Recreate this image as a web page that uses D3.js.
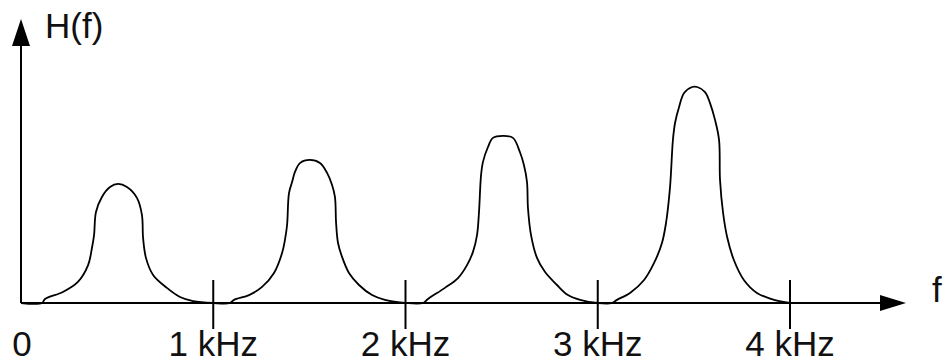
<!DOCTYPE html>
<html>
<head>
<meta charset="utf-8">
<script src="https://cdn.jsdelivr.net/npm/d3@7/dist/d3.min.js"></script>
<style>
  html, body { margin: 0; padding: 0; background: #fff; }
  svg { display: block; }
  text { font-family: "Liberation Sans", Arial, sans-serif; fill: #111; }
</style>
</head>
<body>
<div id="chart"></div>
<script>
// [f in kHz, H(f)], one array per 1 kHz band
const band1 = [[0, 0], [0.109, 0], [0.125, 0.17], [0.218, 0.46], [0.296, 0.88], [0.349, 1.58], [0.369, 2.29], [0.380, 2.83], [0.390, 3.79], [0.421, 4.42], [0.463, 4.83], [0.505, 4.96], [0.551, 4.83], [0.603, 4.38], [0.629, 3.67], [0.635, 2.71], [0.650, 1.88], [0.687, 1.17], [0.759, 0.63], [0.827, 0.25], [0.895, 0.08], [1.0, 0]]
const band2 = [[1.087, 0], [1.108, 0.13], [1.186, 0.33], [1.254, 0.67], [1.316, 1.25], [1.358, 2.08], [1.373, 2.63], [1.384, 3.25], [1.394, 4.58], [1.410, 5.04], [1.425, 5.46], [1.451, 5.83], [1.503, 5.96], [1.555, 5.83], [1.592, 5.42], [1.618, 4.92], [1.633, 4.42], [1.639, 3.33], [1.649, 2.50], [1.670, 1.92], [1.706, 1.25], [1.758, 0.75], [1.826, 0.33], [1.893, 0.13], [2.0, 0]]
const band3 = [[2.091, 0], [2.117, 0.17], [2.205, 0.63], [2.273, 1.04], [2.320, 1.58], [2.351, 2.13], [2.372, 2.83], [2.382, 3.75], [2.393, 5.33], [2.403, 5.88], [2.429, 6.50], [2.455, 6.88], [2.507, 6.96], [2.559, 6.88], [2.595, 6.29], [2.616, 5.75], [2.632, 5.04], [2.637, 3.96], [2.653, 2.83], [2.684, 1.88], [2.726, 1.29], [2.788, 0.75], [2.845, 0.33], [2.908, 0.13], [3.0, 0]]
const band4 = [[3.074, 0], [3.100, 0.13], [3.168, 0.42], [3.241, 0.96], [3.293, 1.67], [3.334, 2.50], [3.355, 3.33], [3.376, 4.83], [3.391, 6.79], [3.402, 7.50], [3.423, 8.17], [3.449, 8.75], [3.491, 9.0], [3.517, 9.0], [3.558, 8.79], [3.584, 8.33], [3.610, 7.63], [3.631, 6.79], [3.636, 5.13], [3.652, 3.75], [3.673, 2.75], [3.708, 1.79], [3.760, 0.96], [3.828, 0.42], [3.917, 0.13], [4.0, 0]]

const tickValues = [0, 1, 2, 3, 4]
const tickLabels = ['0', '1 kHz', '2 kHz', '3 kHz', '4 kHz']
const yLabel = 'H(f)'
const xLabel = 'f'

const options = {
  width: 943,
  height: 364,
  x0: 21,      // y axis position
  x4: 790,     // 4 kHz
  y0: 303,     // x axis position
  yTop: 15,
  fontSize: 35
}

function draw() {
  const { width, height, x0, x4, y0, yTop, fontSize } = options
  const svg = d3.select('#chart')
    .append('svg')
    .attr('width', width)
    .attr('height', height)

  const xScale = d3.scaleLinear().domain([0, 4]).range([x0, x4])
  const yScale = d3.scaleLinear().domain([0, 12]).range([y0, yTop])

  // axes with arrow heads
  svg.append('line')
    .attr('x1', x0).attr('y1', y0)
    .attr('x2', 882).attr('y2', y0)
    .attr('stroke', '#000').attr('stroke-width', 2)
  svg.append('path')
    .attr('d', 'M906,' + y0 + ' L880,' + (y0 - 8) + ' L880,' + (y0 + 8) + ' Z')
    .attr('fill', '#000')
  svg.append('line')
    .attr('x1', x0).attr('y1', y0)
    .attr('x2', x0).attr('y2', 44)
    .attr('stroke', '#000').attr('stroke-width', 2)
  svg.append('path')
    .attr('d', 'M' + x0 + ',19 L' + (x0 - 9) + ',46 L' + (x0 + 9) + ',46 Z')
    .attr('fill', '#000')

  // ticks crossing the x axis
  svg.selectAll('.tick')
    .data(tickValues.filter(v => v > 0))
    .enter()
    .append('line')
    .attr('class', 'tick')
    .attr('x1', d => xScale(d)).attr('x2', d => xScale(d))
    .attr('y1', y0 - 23).attr('y2', y0 + 26)
    .attr('stroke', '#000').attr('stroke-width', 2)

  svg.selectAll('.tick-label')
    .data(tickValues)
    .enter()
    .append('text')
    .attr('class', 'tick-label')
    .attr('x', d => xScale(d) + (d === 0 ? 1 : 0))
    .attr('y', 356)
    .attr('text-anchor', 'middle')
    .attr('font-size', fontSize)
    .text((d, i) => tickLabels[i])

  svg.append('text')
    .attr('x', 45).attr('y', 38)
    .attr('font-size', fontSize)
    .text(yLabel)
  svg.append('text')
    .attr('x', 932).attr('y', 302)
    .attr('font-size', fontSize)
    .text(xLabel)

  // response curve
  const curve = band1.concat(band2, band3, band4)
  const line = d3.line()
    .x(d => xScale(d[0]))
    .y(d => yScale(d[1]))
    .curve(d3.curveCatmullRom.alpha(0.5))
  svg.append('path')
    .datum(curve)
    .attr('d', line)
    .attr('fill', 'none')
    .attr('stroke', '#000')
    .attr('stroke-width', 1.8)
}

draw()
</script>
</body>
</html>
